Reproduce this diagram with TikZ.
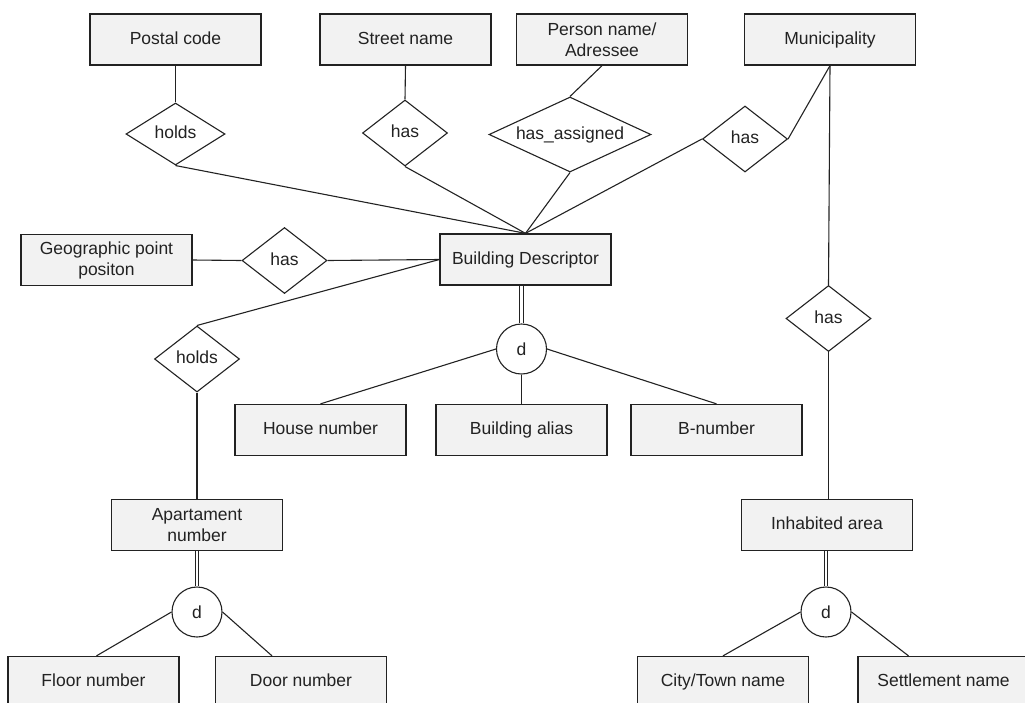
\documentclass[tikz,border=0pt]{standalone}
\usepackage{fontspec}
\setmainfont{Liberation Sans}
\usepackage{tikz}
\usetikzlibrary{shapes.geometric}
\definecolor{boxfill}{RGB}{242,242,242}
\definecolor{ink}{RGB}{34,34,34}

\begin{document}
\begin{tikzpicture}[x=1pt,y=-1pt,
    every node/.style={font=\fontsize{17.5}{21}\selectfont, text=ink},
    entm/.style={draw=ink, line width=1.3pt, fill=boxfill, minimum width=171pt, minimum height=51pt, inner sep=0pt, align=center},
    ent/.style={entm, text height=12.6pt, text depth=3.6pt},
    rel/.style={draw=ink, line width=1.1pt, diamond, fill=white, inner sep=0pt, minimum width=85pt, minimum height=66pt, text height=12.6pt, text depth=3.6pt},
    disj/.style={draw=ink, line width=1.1pt, circle, fill=white, minimum size=50pt, inner sep=0pt},
    conn/.style={draw=ink, line width=1.1pt},
    dbl/.style={draw=ink, double, double distance=2.6pt, line width=0.9pt}]
    \clip (0,0) rectangle (1025,702);
    % entities
    \node[ent] (postal) at (175.5,39.5) {Postal code};
    \node[ent] (street) at (405.5,39.5) {Street name};
    \node[entm] (person) at (602,39.5) {Person name/\\Adressee};
    \node[ent] (muni) at (830,39.5) {Municipality};
    \node[entm] (geo) at (106.5,260) {Geographic point\\positon};
    \node[ent] (bd) at (525.5,259.5) {Building Descriptor};
    \node[ent] (house) at (320.5,430) {House number};
    \node[ent] (alias) at (521.5,430) {Building alias};
    \node[ent] (bnum) at (716.5,430) {B-number};
    \node[entm] (apt) at (197,525) {Apartament\\number};
    \node[ent] (inhab) at (827,525) {Inhabited area};
    \node[ent] (floor) at (93.5,682) {Floor number};
    \node[ent] (door) at (301,682) {Door number};
    \node[ent] (city) at (723,682) {City/Town name};
    \node[ent] (settl) at (943.5,682) {Settlement name};
    % relationships
    \node[rel, minimum width=99pt, minimum height=62pt] (holdsA) at (175.5,134) {holds};
    \node[rel] (hasB) at (405,133) {has};
    \node[rel, shape aspect=2.16, minimum width=162pt, minimum height=75pt] (assigned) at (570,134.5) {has\_assigned};
    \node[rel] (hasC) at (745,139) {has};
    \node[rel] (hasD) at (284.5,260.5) {has};
    \node[rel] (holdsE) at (197,359) {holds};
    \node[rel] (hasF) at (828.5,318.5) {has};
    % disjoint
    \node[disj] (bdd) at (521.5,349) {d};
    \node[disj] (aptd) at (197,612) {d};
    \node[disj] (inhd) at (826,612) {d};
    % connectors
    \path[conn] (postal.south) -- (holdsA.north);
    \path[conn] (holdsA.south) -- (bd.north);
    \path[conn] (street.south) -- (hasB.north);
    \path[conn] (hasB.south) -- (bd.north);
    \path[conn] (person.south) -- (assigned.north);
    \path[conn] (assigned.south) -- (bd.north);
    \path[conn] (hasC.west) -- (bd.north);
    \path[conn] (hasC.east) -- (muni.south);
    \path[conn] (muni.south) -- (hasF.north);
    \path[conn] (hasF.south) -- (inhab.north -| hasF.south);
    \path[conn] (geo.east) -- (hasD.west);
    \path[conn] (hasD.east) -- (bd.west);
    \path[conn] (bd.west) -- (holdsE.north);
    \path[conn] (holdsE.south) -- (apt.north);
    \path[dbl] (bdd.north) -- (bdd.north |- bd.south);
    \path[conn] (bdd.west) -- (house.north);
    \path[conn] (bdd.south) -- (alias.north);
    \path[conn] (bdd.east) -- (bnum.north);
    \path[dbl] (aptd.north) -- (apt.south);
    \path[conn] (aptd.west) -- ([xshift=3pt]floor.north);
    \path[conn] (aptd.east) -- ([xshift=-29pt]door.north);
    \path[dbl] (inhd.north) -- (inhd.north |- inhab.south);
    \path[conn] (inhd.west) -- (city.north);
    \path[conn] (inhd.east) -- ([xshift=-35pt]settl.north);
\end{tikzpicture}
\end{document}
